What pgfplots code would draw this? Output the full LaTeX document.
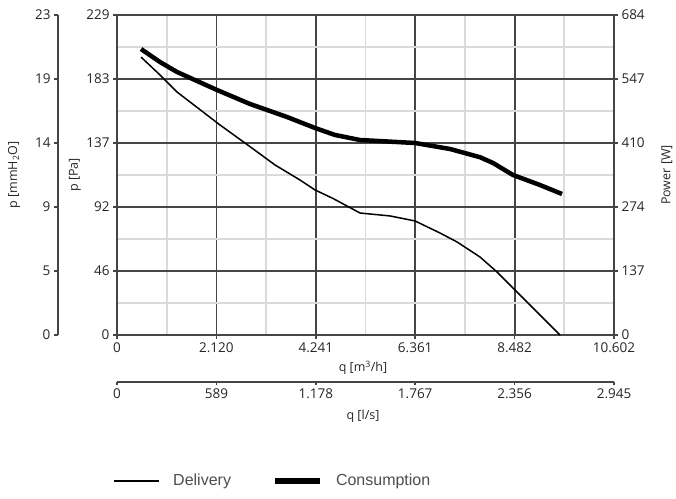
\documentclass[border=0pt]{standalone}
\usepackage{pgfplots}
\pgfplotsset{compat=1.18}
\usepackage{fontspec}
\setmainfont{Open Sans}
\newfontfamily\legfont{Liberation Sans}
\definecolor{axgray}{HTML}{454545}
\definecolor{mingray}{HTML}{DADADA}
\definecolor{leggray}{HTML}{4D4D4D}
\begin{document}
\begin{tikzpicture}
\useasboundingbox (0pt,0pt) rectangle (676pt,498pt);
\pgfplotsset{
 base/.style={scale only axis, width=497pt, height=320pt, anchor=south west,
   ticklabel style={font=\fontsize{13.5}{15}\selectfont, text=black!85},
   label style={font=\fontsize{12.5}{14}\selectfont, text=black!85},
   tick align=outside, major tick length=4pt, tick style={axgray, line width=1.5pt},
   axis line style={axgray, line width=2.2pt}},
}
% mmH2O axis
\begin{axis}[base, at={(58pt,163pt)}, axis y line*=left, axis x line=none,
  xmin=0, xmax=1, ymin=0, ymax=23.35,
  ytick={0,4.67,9.34,14.01,18.68,23.35}, yticklabels={0,5,9,14,19,23},
  ylabel={p [mmH\textsubscript{2}O]},
  ylabel style={at={(axis description cs:-0.0885,0.5)}, anchor=center}]
\end{axis}
% main axis (Pa)
\begin{axis}[base, at={(117pt,163pt)}, xmin=0, xmax=10.602, ymin=0, ymax=229,
  xtick={0,2.1204,4.2408,6.3612,8.4816,10.602},
  xticklabels={0,2.120,4.241,6.361,8.482,10.602},
  ytick={0,45.8,91.6,137.4,183.2,229},
  yticklabels={0,46,92,137,183,229},
  minor xtick={1.0602,3.1806,5.301,7.4214,9.5418},
  minor ytick={22.9,68.7,114.5,160.3,206.1},
  grid=both, major grid style={axgray, line width=1.8pt},
  minor grid style={mingray, line width=1.8pt},
  minor tick length=0pt,
  xtick pos=bottom, ytick pos=left,
  xlabel={q [m\textsuperscript{3}/h]},
  xlabel style={at={(axis description cs:0.495,-0.103)}, anchor=center},
  ylabel={p [Pa]},
  ylabel style={at={(axis description cs:-0.0845,0.5)}, anchor=center},
  legend style={at={(axis description cs:-0.008,-0.456)}, anchor=west,
    draw=none, fill=none, inner sep=0pt, outer sep=0pt,
    font=\legfont\fontsize{16}{18}\selectfont, text=leggray,
    /tikz/every odd column/.append style={column sep=13pt},
    /tikz/every even column/.append style={column sep=41pt},
    nodes={inner sep=0pt}},
  legend columns=2, legend cell align=left]
\addplot[black, line width=1.5pt, line join=round,
  legend image code/.code={\draw[black, line width=2.2pt] (0pt,0pt) -- (45pt,0pt);}]
 coordinates {
 (0.512,198.9) (0.917,186.1) (1.280,173.9) (2.197,150.3) (2.837,134.8)
 (3.370,121.7) (3.904,110.9) (4.224,103.8) (4.608,97.7) (5.184,87.3)
 (5.824,85.2) (6.357,81.6) (6.890,73.0) (7.253,66.6) (7.744,55.8)
 (8.106,45.1) (8.447,33.6) (8.917,17.9) (9.450,0)
 };
\addlegendentry{Delivery}
\addlegendimage{black, line width=6pt,
  legend image code/.code={\draw[black, line width=6pt] (0pt,0pt) -- (45pt,0pt);}}
\addlegendentry{Consumption}
\end{axis}
% power axis
\begin{axis}[base, at={(117pt,163pt)}, axis y line*=right, axis x line=none,
  xmin=0, xmax=10.602, ymin=0, ymax=684,
  ytick={0,136.8,273.6,410.4,547.2,684},
  yticklabels={0,137,274,410,547,684},
  ylabel={Power [W]},
  ylabel style={at={(axis description cs:1.1066,0.5)}, anchor=center}]
\addplot[black, line width=4.5pt, line join=round] coordinates {
 (0.512,611.3) (0.917,583.5) (1.280,562.2) (2.133,523.7) (2.837,493.8)
 (3.626,466.0) (4.224,442.5) (4.651,427.5) (5.184,416.8) (6.357,410.4)
 (7.104,397.6) (7.744,380.0) (8.021,367.7) (8.447,342.0) (9.023,320.6)
 (9.493,301.4)
 };
\end{axis}
% l/s axis
\begin{axis}[base, at={(117pt,116pt)}, axis x line*=bottom, axis y line=none,
  xmin=0, xmax=2.945, ymin=0, ymax=1, major tick length=3pt,
  xtick={0,0.589,1.178,1.767,2.356,2.945},
  xticklabels={0,589,1.178,1.767,2.356,2.945},
  xlabel={q [l/s]},
  xlabel style={at={(axis description cs:0.495,-0.106)}, anchor=center}]
\end{axis}
\end{tikzpicture}
\end{document}
